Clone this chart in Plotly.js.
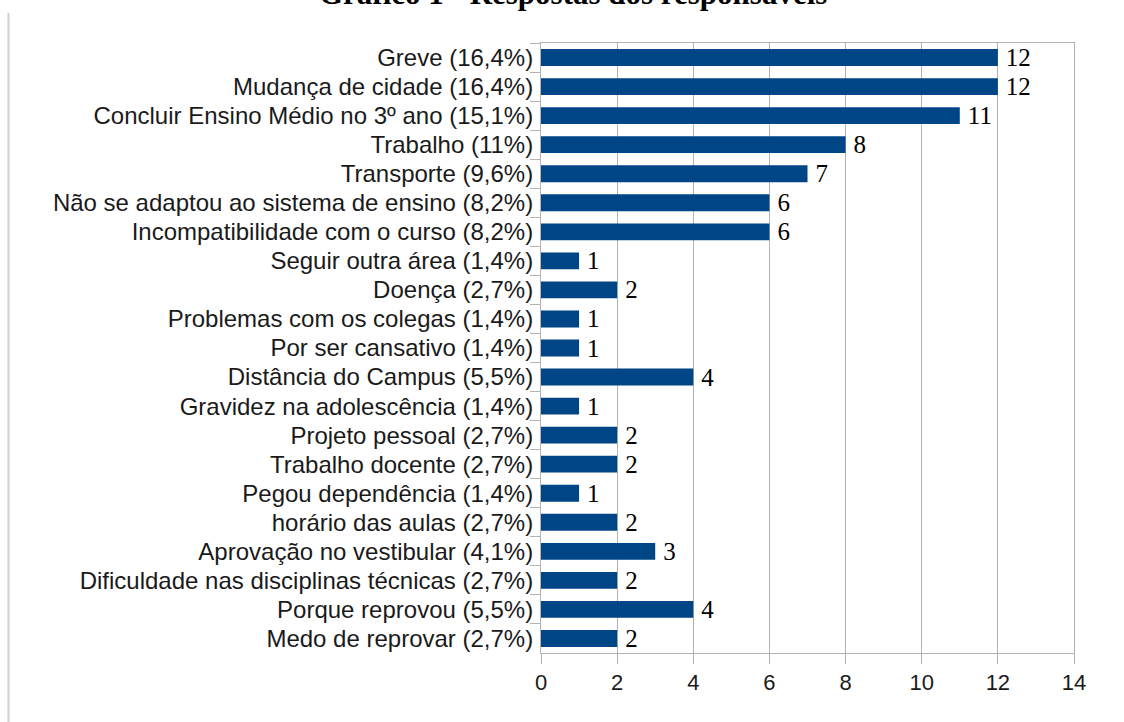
<!DOCTYPE html>
<html><head><meta charset="utf-8">
<script src="https://cdn.plot.ly/plotly-3.0.1.min.js"></script>
<style>html,body{margin:0;padding:0;background:#fff;}#chart{width:1124px;height:722px;}</style>
</head><body><div id="chart"></div>
<script>
const categories = [
  "Greve (16,4%)",
  "Mudança de cidade (16,4%)",
  "Concluir Ensino Médio no 3º ano (15,1%)",
  "Trabalho (11%)",
  "Transporte (9,6%)",
  "Não se adaptou ao sistema de ensino (8,2%)",
  "Incompatibilidade com o curso (8,2%)",
  "Seguir outra área (1,4%)",
  "Doença (2,7%)",
  "Problemas com os colegas (1,4%)",
  "Por ser cansativo (1,4%)",
  "Distância do Campus (5,5%)",
  "Gravidez na adolescência (1,4%)",
  "Projeto pessoal (2,7%)",
  "Trabalho docente (2,7%)",
  "Pegou dependência (1,4%)",
  "horário das aulas (2,7%)",
  "Aprovação no vestibular (4,1%)",
  "Dificuldade nas disciplinas técnicas (2,7%)",
  "Porque reprovou (5,5%)",
  "Medo de reprovar (2,7%)"
];
const values = [12, 12, 11, 8, 7, 6, 6, 1, 2, 1, 1, 4, 1, 2, 2, 1, 2, 3, 2, 4, 2];
const xTicks = [0, 2, 4, 6, 8, 10, 12, 14];
const chartTitle = "Gráfico 1 - Respostas dos responsáveis";

const W = 1124, H = 722;
const margin = {l: 541, r: 50, t: 43, b: 69};
const pw = W - margin.l - margin.r, ph = H - margin.t - margin.b;

const trace = {
  type: 'bar',
  orientation: 'h',
  y: categories,
  x: values,
  width: 0.58,
  marker: {color: '#004586', line: {color: '#004586', width: 0}},
  text: values.map(v => '\u2009' + v),
  textposition: 'outside',
  constraintext: 'none',
  cliponaxis: false,
  textfont: {family: 'Liberation Serif, Times New Roman, serif', size: 25, color: '#000'},
  hoverinfo: 'none'
};

const layout = {
  width: W, height: H,
  margin: margin,
  paper_bgcolor: '#fff', plot_bgcolor: '#fff',
  showlegend: false,
  bargap: 0.42,
  font: {family: 'Liberation Sans, Arial, sans-serif', color: '#1a1a1a'},
  xaxis: {
    range: [0, 14],
    tickvals: xTicks,
    ticktext: xTicks.map(String),
    showgrid: true, gridcolor: '#b3b3b3', gridwidth: 1,
    zeroline: false,
    showline: true, linecolor: '#b3b3b3', linewidth: 1, mirror: true,
    ticks: 'outside', ticklen: 10, tickcolor: '#b3b3b3', tickwidth: 1,
    tickfont: {family: 'Liberation Sans, Arial, sans-serif', size: 22, color: '#1a1a1a'},
    fixedrange: true
  },
  yaxis: {
    type: 'category',
    categoryorder: 'array', categoryarray: categories,
    autorange: 'reversed',
    showgrid: false, zeroline: false,
    showline: true, linecolor: '#b3b3b3', linewidth: 1, mirror: true,
    ticks: 'outside', ticklen: 10, tickcolor: '#b3b3b3', tickwidth: 1,
    tickson: 'boundaries',
    ticklabelstandoff: 2,
    tickfont: {family: 'Liberation Sans, Arial, sans-serif', size: 24, color: '#1a1a1a'},
    fixedrange: true
  },
  shapes: [{
    type: 'line', xref: 'paper', yref: 'paper',
    x0: (8.5 - margin.l) / pw, x1: (8.5 - margin.l) / pw,
    y0: (H - 13 - margin.b) / ph, y1: -margin.b / ph,
    line: {color: '#d0d0d0', width: 2}
  }],
  annotations: [{
    text: chartTitle, showarrow: false,
    xref: 'paper', yref: 'paper',
    x: (573 - margin.l) / pw, xanchor: 'center',
    y: (H - 13 - margin.b) / ph, yanchor: 'bottom',
    font: {family: 'Liberation Serif, Times New Roman, serif', size: 31, weight: 'bold', color: '#000'}
  }]
};

Plotly.newPlot('chart', [trace], layout, {displayModeBar: false, staticPlot: true});
</script></body></html>
